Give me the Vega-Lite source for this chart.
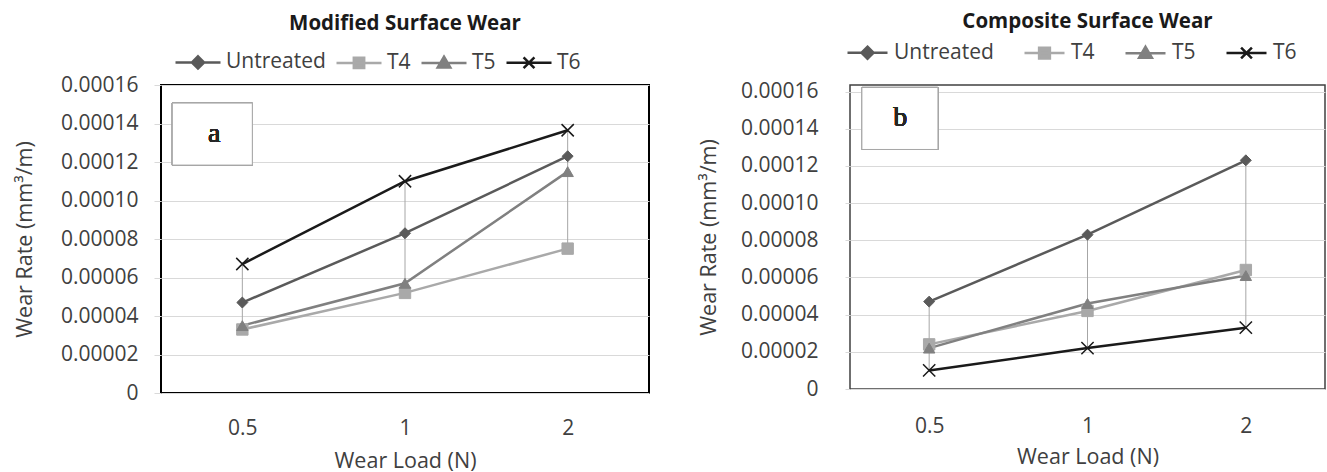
{
  "$schema": "https://vega.github.io/schema/vega-lite/v6.json",
  "padding": {"left": 13, "top": 10, "right": 0, "bottom": 0},
  "spacing": 47,
  "datasets": {
    "modified": [
      {"load": "0.5", "series": "Untreated", "rate": 0.000047},
      {"load": "1", "series": "Untreated", "rate": 0.000083},
      {"load": "2", "series": "Untreated", "rate": 0.000123},
      {"load": "0.5", "series": "T4", "rate": 0.000033},
      {"load": "1", "series": "T4", "rate": 0.000052},
      {"load": "2", "series": "T4", "rate": 0.000075},
      {"load": "0.5", "series": "T5", "rate": 0.000035},
      {"load": "1", "series": "T5", "rate": 0.000057},
      {"load": "2", "series": "T5", "rate": 0.000115},
      {"load": "0.5", "series": "T6", "rate": 0.000067},
      {"load": "1", "series": "T6", "rate": 0.00011},
      {"load": "2", "series": "T6", "rate": 0.0001365}
    ],
    "composite": [
      {"load": "0.5", "series": "Untreated", "rate": 0.000047},
      {"load": "1", "series": "Untreated", "rate": 0.000083},
      {"load": "2", "series": "Untreated", "rate": 0.000123},
      {"load": "0.5", "series": "T4", "rate": 0.000024},
      {"load": "1", "series": "T4", "rate": 0.000042},
      {"load": "2", "series": "T4", "rate": 0.000064},
      {"load": "0.5", "series": "T5", "rate": 0.000022},
      {"load": "1", "series": "T5", "rate": 0.000046},
      {"load": "2", "series": "T5", "rate": 0.000061},
      {"load": "0.5", "series": "T6", "rate": 0.00001},
      {"load": "1", "series": "T6", "rate": 0.000022},
      {"load": "2", "series": "T6", "rate": 0.000033}
    ]
  },
  "resolve": {
    "scale": {"color": "independent", "shape": "independent", "stroke": "independent"},
    "legend": {"color": "independent", "shape": "independent", "stroke": "independent"}
  },
  "hconcat": [
    {
      "width": 488,
      "height": 308,
      "title": {"text": "Modified Surface Wear", "offset": 4},
      "view": {"stroke": "#000000", "strokeWidth": 2},
      "data": {"name": "modified"},
      "encoding": {
        "x": {"field": "load", "type": "ordinal", "sort": ["0.5", "1", "2"], "scale": {"type": "point", "padding": 0.5},
          "axis": {"title": "Wear Load (N)", "labelAngle": 0, "domain": false, "ticks": false, "tickSize": 0, "grid": false, "labelPadding": 24, "titlePadding": 12}},
        "y": {"field": "rate", "type": "quantitative", "scale": {"domain": [0, 0.00016], "nice": false},
          "axis": {"title": "Wear Rate (mm³/m)", "values": [0, 0.00002, 0.00004, 0.00006, 0.00008, 0.0001, 0.00012, 0.00014, 0.00016], "tickCount": 12, "labelOverlap": false, "labelExpr": "datum.value === 0 ? '0' : format(datum.value, '.5f')", "domain": false, "tickSize": 7, "tickColor": "#d9d9d9", "labelPadding": 16, "titlePadding": 24, "gridColor": "#d9d9d9"}},
        "color": {"field": "series", "type": "nominal", "scale": {"domain": ["Untreated", "T4", "T5", "T6"], "range": ["#5a5a5a", "#a9a9a9", "#808080", "#1a1a1a"]},
          "legend": {"orient": "none", "legendX": 13, "legendY": -47, "direction": "horizontal", "title": null, "symbolSize": 2025, "symbolStrokeWidth": 2.5, "columnPadding": 5, "labelOffset": 4}}
      },
      "layer": [
        {
          "mark": {"type": "rule", "color": "#a6a6a6", "strokeWidth": 1},
          "encoding": {
            "y": {"aggregate": "max", "field": "rate", "type": "quantitative", "scale": {"domain": [0, 0.00016], "nice": false},
              "axis": {"title": "Wear Rate (mm³/m)", "values": [0, 0.00002, 0.00004, 0.00006, 0.00008, 0.0001, 0.00012, 0.00014, 0.00016], "tickCount": 12, "labelOverlap": false, "labelExpr": "datum.value === 0 ? '0' : format(datum.value, '.5f')", "domain": false, "tickSize": 7, "tickColor": "#d9d9d9", "labelPadding": 16, "titlePadding": 24, "gridColor": "#d9d9d9"}},
            "y2": {"aggregate": "min", "field": "rate"},
            "color": {"value": "#a6a6a6"}
          }
        },
        {"mark": {"type": "line", "strokeWidth": 2.5}, "encoding": {}},
        {"transform": [{"filter": "datum.series === 'Untreated'"}], "mark": {"type": "point", "shape": "diamond", "size": 120, "filled": true, "opacity": 1, "stroke": "#5a5a5a", "strokeWidth": 1}, "encoding": {}},
        {"transform": [{"filter": "datum.series === 'T4'"}], "mark": {"type": "point", "shape": "square", "size": 130, "filled": true, "opacity": 1, "stroke": "#a9a9a9", "strokeWidth": 1}, "encoding": {}},
        {"transform": [{"filter": "datum.series === 'T5'"}], "mark": {"type": "point", "shape": "triangle-up", "size": 130, "filled": true, "opacity": 1, "stroke": "#808080", "strokeWidth": 1}, "encoding": {}},
        {"transform": [{"filter": "datum.series === 'T6'"}], "mark": {"type": "point", "shape": "M-1,-1L1,1M-1,1L1,-1", "size": 150, "filled": true, "opacity": 1, "stroke": "#1a1a1a", "strokeWidth": 1.5}, "encoding": {}},
        {
          "transform": [{"filter": "false"}],
          "mark": {"type": "point", "filled": true, "opacity": 1, "strokeWidth": 2.5},
          "encoding": {
            "stroke": {"field": "series", "type": "nominal", "scale": {"domain": ["Untreated", "T4", "T5", "T6"], "range": ["#5a5a5a", "#a9a9a9", "#808080", "#1a1a1a"]},
              "legend": {"orient": "none", "legendX": 13, "legendY": -47, "direction": "horizontal", "title": null, "symbolSize": 2025, "symbolStrokeWidth": 2.5, "columnPadding": 5, "labelOffset": 4}},
            "shape": {"field": "series", "type": "nominal", "scale": {"domain": ["Untreated", "T4", "T5", "T6"], "range": ["M-1,0H1M0,-0.27L0.27,0L0,0.27L-0.27,0Z", "M-1,0H1M-0.23,-0.23H0.23V0.23H-0.23Z", "M-1,0H1M0,-0.28L0.28,0.2H-0.28Z", "M-1,0H1M-0.24,-0.24L0.24,0.24M-0.24,0.24L0.24,-0.24"]},
              "legend": {"orient": "none", "legendX": 13, "legendY": -47, "direction": "horizontal", "title": null, "symbolSize": 2025, "symbolStrokeWidth": 2.5, "columnPadding": 5, "labelOffset": 4}}
          }
        },
        {
          "mark": {"type": "point", "shape": "M-1.75,-0.775H0.25V0.775H-1.75Z", "size": 6400, "filled": true, "fill": "#ffffff", "stroke": "#a6a6a6", "strokeWidth": 1, "opacity": 1},
          "encoding": {
            "x": {"datum": "0.5", "type": "ordinal"},
            "y": {"datum": 0.0001345, "type": "quantitative", "scale": {"domain": [0, 0.00016], "nice": false},
              "axis": {"title": "Wear Rate (mm³/m)", "values": [0, 0.00002, 0.00004, 0.00006, 0.00008, 0.0001, 0.00012, 0.00014, 0.00016], "tickCount": 12, "labelOverlap": false, "labelExpr": "datum.value === 0 ? '0' : format(datum.value, '.5f')", "domain": false, "tickSize": 7, "tickColor": "#d9d9d9", "labelPadding": 16, "titlePadding": 24, "gridColor": "#d9d9d9"}},
            "color": {"value": "#ffffff"}
          }
        },
        {
          "mark": {"type": "text", "text": "a", "font": "Liberation Serif", "fontSize": 28, "fontWeight": "normal", "dx": -28, "baseline": "middle", "align": "center"},
          "encoding": {
            "x": {"datum": "0.5", "type": "ordinal"},
            "y": {"datum": 0.0001345, "type": "quantitative", "scale": {"domain": [0, 0.00016], "nice": false},
              "axis": {"title": "Wear Rate (mm³/m)", "values": [0, 0.00002, 0.00004, 0.00006, 0.00008, 0.0001, 0.00012, 0.00014, 0.00016], "tickCount": 12, "labelOverlap": false, "labelExpr": "datum.value === 0 ? '0' : format(datum.value, '.5f')", "domain": false, "tickSize": 7, "tickColor": "#d9d9d9", "labelPadding": 16, "titlePadding": 24, "gridColor": "#d9d9d9"}},
            "color": {"value": "#262626"}
          }
        }
      ]
    },
    {
      "width": 475,
      "height": 304,
      "title": {"text": "Composite Surface Wear", "offset": -1},
      "view": {"stroke": "#404040", "strokeWidth": 1.5},
      "data": {"name": "composite"},
      "encoding": {
        "x": {"field": "load", "type": "ordinal", "sort": ["0.5", "1", "2"], "scale": {"type": "point", "padding": 0.5},
          "axis": {"title": "Wear Load (N)", "labelAngle": 0, "domain": false, "ticks": false, "tickSize": 0, "grid": false, "labelPadding": 26, "titlePadding": 10}},
        "y": {"field": "rate", "type": "quantitative", "scale": {"domain": [0, 0.0001635], "nice": false},
          "axis": {"title": "Wear Rate (mm³/m)", "values": [0, 0.00002, 0.00004, 0.00006, 0.00008, 0.0001, 0.00012, 0.00014, 0.00016], "tickCount": 12, "labelOverlap": false, "labelExpr": "datum.value === 0 ? '0' : format(datum.value, '.5f')", "domain": false, "tickSize": 5, "tickColor": "#d9d9d9", "labelPadding": 27, "titlePadding": 20, "gridColor": "#d9d9d9"}},
        "color": {"field": "series", "type": "nominal", "scale": {"domain": ["Untreated", "T4", "T5", "T6"], "range": ["#5a5a5a", "#a9a9a9", "#808080", "#1a1a1a"]},
          "legend": {"orient": "none", "legendX": -4, "legendY": -54, "direction": "horizontal", "title": null, "symbolSize": 1600, "symbolStrokeWidth": 2.5, "columnPadding": 25, "labelOffset": 5}}
      },
      "layer": [
        {
          "mark": {"type": "rule", "color": "#a6a6a6", "strokeWidth": 1},
          "encoding": {
            "y": {"aggregate": "max", "field": "rate", "type": "quantitative", "scale": {"domain": [0, 0.0001635], "nice": false},
              "axis": {"title": "Wear Rate (mm³/m)", "values": [0, 0.00002, 0.00004, 0.00006, 0.00008, 0.0001, 0.00012, 0.00014, 0.00016], "tickCount": 12, "labelOverlap": false, "labelExpr": "datum.value === 0 ? '0' : format(datum.value, '.5f')", "domain": false, "tickSize": 5, "tickColor": "#d9d9d9", "labelPadding": 27, "titlePadding": 20, "gridColor": "#d9d9d9"}},
            "y2": {"aggregate": "min", "field": "rate"},
            "color": {"value": "#a6a6a6"}
          }
        },
        {"mark": {"type": "line", "strokeWidth": 2.5}, "encoding": {}},
        {"transform": [{"filter": "datum.series === 'Untreated'"}], "mark": {"type": "point", "shape": "diamond", "size": 120, "filled": true, "opacity": 1, "stroke": "#5a5a5a", "strokeWidth": 1}, "encoding": {}},
        {"transform": [{"filter": "datum.series === 'T4'"}], "mark": {"type": "point", "shape": "square", "size": 130, "filled": true, "opacity": 1, "stroke": "#a9a9a9", "strokeWidth": 1}, "encoding": {}},
        {"transform": [{"filter": "datum.series === 'T5'"}], "mark": {"type": "point", "shape": "triangle-up", "size": 130, "filled": true, "opacity": 1, "stroke": "#808080", "strokeWidth": 1}, "encoding": {}},
        {"transform": [{"filter": "datum.series === 'T6'"}], "mark": {"type": "point", "shape": "M-1,-1L1,1M-1,1L1,-1", "size": 150, "filled": true, "opacity": 1, "stroke": "#1a1a1a", "strokeWidth": 1.5}, "encoding": {}},
        {
          "transform": [{"filter": "false"}],
          "mark": {"type": "point", "filled": true, "opacity": 1, "strokeWidth": 2.5},
          "encoding": {
            "stroke": {"field": "series", "type": "nominal", "scale": {"domain": ["Untreated", "T4", "T5", "T6"], "range": ["#5a5a5a", "#a9a9a9", "#808080", "#1a1a1a"]},
              "legend": {"orient": "none", "legendX": -4, "legendY": -54, "direction": "horizontal", "title": null, "symbolSize": 1600, "symbolStrokeWidth": 2.5, "columnPadding": 25, "labelOffset": 5}},
            "shape": {"field": "series", "type": "nominal", "scale": {"domain": ["Untreated", "T4", "T5", "T6"], "range": ["M-1,0H1M0,-0.3L0.3,0L0,0.3L-0.3,0Z", "M-1,0H1M-0.27,-0.27H0.27V0.27H-0.27Z", "M-1,0H1M0,-0.32L0.32,0.23H-0.32Z", "M-1,0H1M-0.27,-0.27L0.27,0.27M-0.27,0.27L0.27,-0.27"]},
              "legend": {"orient": "none", "legendX": -4, "legendY": -54, "direction": "horizontal", "title": null, "symbolSize": 1600, "symbolStrokeWidth": 2.5, "columnPadding": 25, "labelOffset": 5}}
          }
        },
        {
          "mark": {"type": "point", "shape": "M-1.725,-0.795H0.225V0.795H-1.725Z", "size": 6084, "filled": true, "fill": "#ffffff", "stroke": "#a6a6a6", "strokeWidth": 1, "opacity": 1},
          "encoding": {
            "x": {"datum": "0.5", "type": "ordinal"},
            "y": {"datum": 0.0001455, "type": "quantitative", "scale": {"domain": [0, 0.0001635], "nice": false},
              "axis": {"title": "Wear Rate (mm³/m)", "values": [0, 0.00002, 0.00004, 0.00006, 0.00008, 0.0001, 0.00012, 0.00014, 0.00016], "tickCount": 12, "labelOverlap": false, "labelExpr": "datum.value === 0 ? '0' : format(datum.value, '.5f')", "domain": false, "tickSize": 5, "tickColor": "#d9d9d9", "labelPadding": 27, "titlePadding": 20, "gridColor": "#d9d9d9"}},
            "color": {"value": "#ffffff"}
          }
        },
        {
          "mark": {"type": "text", "text": "b", "font": "Liberation Serif", "fontSize": 28, "fontWeight": "normal", "dx": -29, "baseline": "middle", "align": "center"},
          "encoding": {
            "x": {"datum": "0.5", "type": "ordinal"},
            "y": {"datum": 0.0001455, "type": "quantitative", "scale": {"domain": [0, 0.0001635], "nice": false},
              "axis": {"title": "Wear Rate (mm³/m)", "values": [0, 0.00002, 0.00004, 0.00006, 0.00008, 0.0001, 0.00012, 0.00014, 0.00016], "tickCount": 12, "labelOverlap": false, "labelExpr": "datum.value === 0 ? '0' : format(datum.value, '.5f')", "domain": false, "tickSize": 5, "tickColor": "#d9d9d9", "labelPadding": 27, "titlePadding": 20, "gridColor": "#d9d9d9"}},
            "color": {"value": "#262626"}
          }
        }
      ]
    }
  ],
  "config": {
    "font": "Open Sans",
    "axis": {"labelFont": "Open Sans", "labelFontSize": 21, "labelColor": "#404040", "titleFont": "Open Sans", "titleFontSize": 21.5, "titleFontWeight": "normal", "titleColor": "#404040"},
    "legend": {"labelFont": "Open Sans", "labelFontSize": 21, "labelColor": "#404040"},
    "title": {"font": "Open Sans", "fontSize": 20.5, "fontWeight": "bold", "color": "#1a1a1a", "anchor": "middle", "frame": "group"}
  }
}
